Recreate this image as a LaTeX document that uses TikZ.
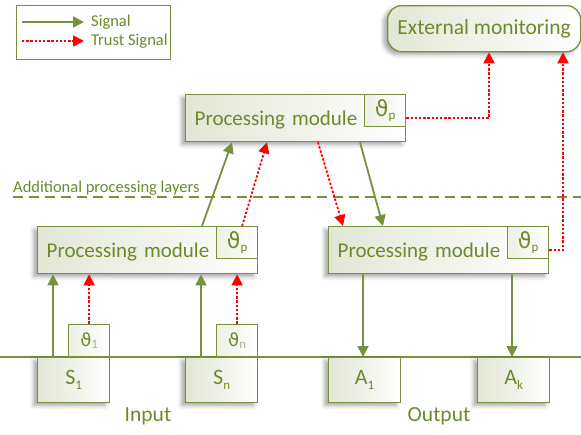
\documentclass[tikz,border=0pt]{standalone}
\usepackage{fontspec}
\setmainfont{Carlito}
\newfontfamily\thetafont{DejaVu Sans}
\usetikzlibrary{arrows.meta,calc,shadows.blur}

\definecolor{leaf}{HTML}{76923C}
\definecolor{leaftext}{HTML}{6C8A2A}
\definecolor{boxfill}{HTML}{E2E6D4}
\definecolor{trust}{HTML}{FF0000}
\definecolor{faintsub}{HTML}{A9AE9C}

% lowered small index after a symbol
\newcommand\lowsub[2][leaftext]{\raisebox{-0.22em}{\fontsize{13}{13}\selectfont\color{#1}#2}}
% trust value symbol with its index
\newcommand\trustval[3][leaftext]{{\fontsize{#3}{#3}\selectfont\thetafont ϑ}\lowsub[#1]{#2}}

\tikzset{
  x=1pt, y=-1pt,
  every node/.style={text=leaftext},
  panel/.style={draw=leaf, line width=1.3pt, left color=boxfill, right color=white,
    blur shadow={shadow xshift=-4pt, shadow yshift=-3pt, shadow blur radius=4pt, shadow opacity=35}},
  pmbox/.style={panel, anchor=north west, minimum width=220pt, minimum height=47pt,
    inner xsep=9pt, inner ysep=0pt, text width=202pt, align=left,
    text height=19pt, text depth=4pt, font=\fontsize{21}{25}\selectfont},
  thetabox/.style={draw=leaf, line width=1.3pt, left color=boxfill!60!white, right color=white,
    minimum width=41pt, minimum height=32pt, inner sep=0pt},
  iobox/.style={panel, anchor=north west, minimum width=72pt, minimum height=45pt,
    inner sep=0pt, font=\fontsize{22}{26}\selectfont},
  extbox/.style={panel, rounded corners=14pt, anchor=north west, minimum width=193pt,
    minimum height=46pt, inner sep=0pt, font=\fontsize{21.5}{25}\selectfont},
  sig/.style={draw=leaf, line width=1.8pt, -{Triangle[length=11pt,width=11pt]}},
  trustsig/.style={draw=trust, line width=1.8pt, dash pattern=on 2.4pt off 1.8pt,
    -{Triangle[length=11pt,width=11pt]}},
  bus/.style={draw=leaf, line width=1.6pt},
  layerline/.style={draw=leaf, line width=1.6pt, dash pattern=on 10pt off 6pt},
  caption/.style={font=\fontsize{21.5}{25}\selectfont, anchor=base, inner sep=0pt},
}

\begin{document}
\begin{tikzpicture}
\useasboundingbox (0,0) rectangle (581,434);

% legend
\node[draw=leaf, line width=1.3pt, anchor=north west, minimum width=154pt, minimum height=54pt, inner sep=0pt] (legend) at (16,5) {};
\node[anchor=west, inner sep=0pt, font=\fontsize{16.5}{18}\selectfont] (lsig) at (91,22) {Signal};
\node[anchor=west, inner sep=0pt, font=\fontsize{16.5}{18}\selectfont] (ltrust) at (91,41) {Trust Signal};
\coordinate (lsigstart) at ($(legend.west |- lsig.west)+(6,0)$);
\coordinate (ltruststart) at ($(legend.west |- ltrust.west)+(6,0)$);
\draw[sig, shorten >=7pt] (lsigstart) -- (lsig.west);
\draw[trustsig, shorten >=7pt] (ltruststart) -- (ltrust.west);

% boundary lines
\coordinate (busW) at (0,357);
\coordinate (busE) at (581,357);
\draw[bus] (busW) -- (busE);
\coordinate (layerW) at (13,197);
\coordinate (layerE) at (581,197);
\draw[layerline] (layerW) -- (layerE);
\node[anchor=base west, inner sep=0pt, font=\fontsize{16.5}{19}\selectfont] (layers) at (13,192) {Additional processing layers};

% external monitoring
\node[extbox] (ext) at (387,5) {External monitoring};

% processing modules
\node[pmbox] (pmT) at (185,94) {Processing module};
\node[thetabox, anchor=north east] (thT) at (pmT.north east) {\trustval{p}{22}};
\node[pmbox] (pmL) at (37,226) {Processing module};
\node[thetabox, anchor=north east] (thL) at (pmL.north east) {\trustval{p}{22}};
\node[pmbox] (pmR) at (328,226) {Processing module};
\node[thetabox, anchor=north east] (thR) at (pmR.north east) {\trustval{p}{22}};

% sensors and actuators
\node[iobox] (s1) at (37,357) {S\lowsub{1}};
\node[iobox] (sn) at (185,357) {S\lowsub{n}};
\node[iobox] (a1) at (328,357) {A\lowsub{1}};
\node[iobox] (ak) at (477,357) {A\lowsub{k}};
\node[thetabox, anchor=south east] (th1) at (s1.north east) {\trustval[faintsub]{1}{18}};
\node[thetabox, anchor=south east] (thn) at (sn.north east) {\trustval[faintsub]{n}{18}};

\node[caption] (input) at (148,421) {Input};
\node[caption] (output) at (439,421) {Output};

% inputs into the first layer
\coordinate (s1up) at ($(s1.north west)+(16,0)$);
\coordinate (snup) at ($(sn.north west)+(16,0)$);
\draw[sig] (s1up) -- (s1up |- pmL.south);
\draw[sig] (snup) -- (snup |- pmL.south);
\draw[trustsig] (th1.north) -- (th1.north |- pmL.south);
\draw[trustsig] (thn.north) -- (thn.north |- pmL.south);

% between layers
\coordinate (pmLout) at ($(pmL.north west)+(165,0)$);
\coordinate (pmTin) at ($(pmT.south west)+(47,0)$);
\draw[sig] (pmLout) -- (pmTin);
\coordinate (thLout) at ($(thL.north)+(5,0)$);
\coordinate (pmTtin) at ($(pmT.south west)+(82,0)$);
\draw[trustsig] (thLout) -- (pmTtin);
\coordinate (pmTtout) at ($(pmT.south west)+(133,0)$);
\coordinate (pmRtin) at ($(pmR.north west)+(15,0)$);
\draw[trustsig] (pmTtout) -- (pmRtin);
\coordinate (pmTout) at ($(pmT.south west)+(175,0)$);
\coordinate (pmRin) at ($(pmR.north west)+(55,0)$);
\draw[sig] (pmTout) -- (pmRin);

% outputs to actuators
\coordinate (a1in) at ($(a1.north west)+(35,0)$);
\coordinate (akin) at ($(ak.north west)+(35,0)$);
\draw[sig] (a1in |- pmR.south) -- (a1in);
\draw[sig] (akin |- pmR.south) -- (akin);

% trust reports to external monitoring
\coordinate (extinT) at ($(ext.south west)+(102,0)$);
\coordinate (extinR) at ($(ext.south west)+(176,0)$);
\draw[trustsig] (pmT.east) -| (extinT);
\draw[trustsig] (pmR.east) -| (extinR);
\end{tikzpicture}
\end{document}
